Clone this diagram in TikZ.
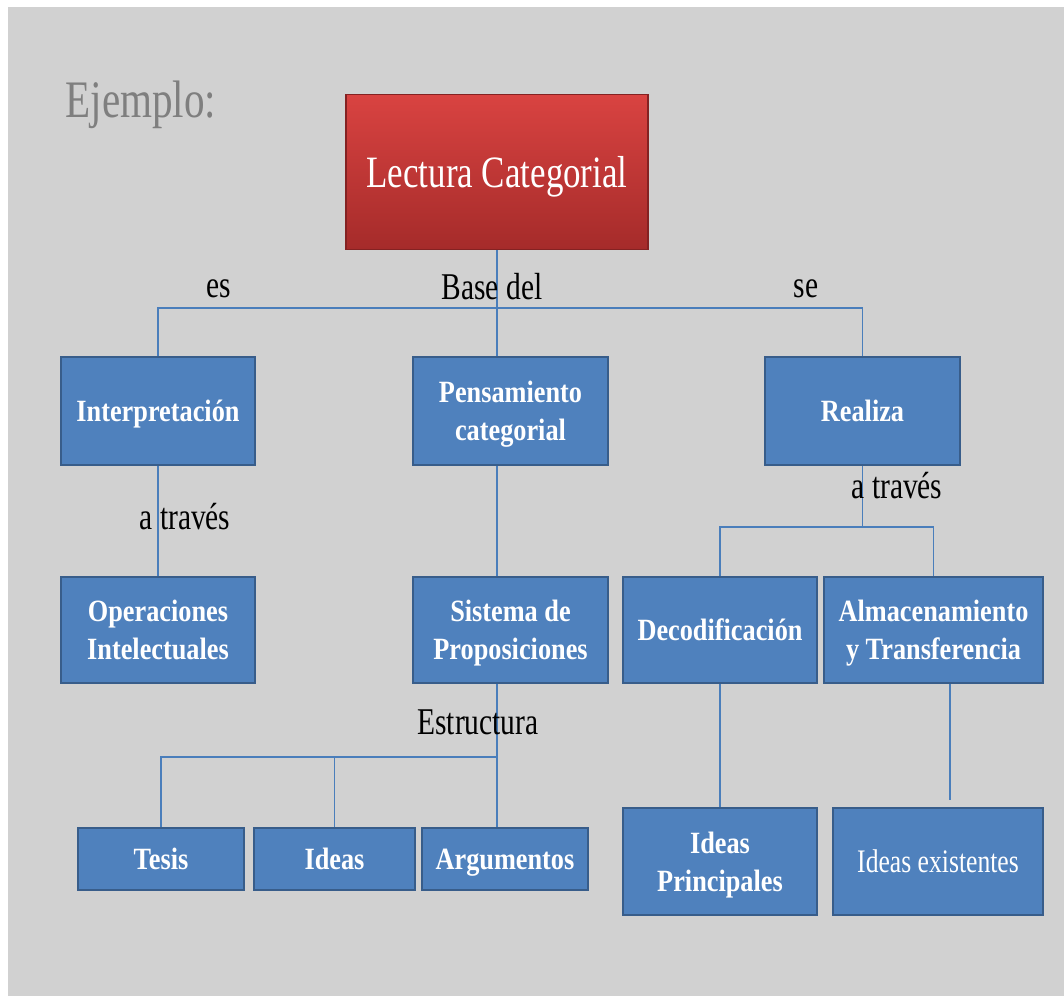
\documentclass[tikz,border=0pt]{standalone}
\usepackage{fontspec}
\setmainfont[FakeStretch=0.85]{Liberation Serif}
\newfontfamily\condfont[FakeStretch=0.78]{Liberation Serif}
\usetikzlibrary{positioning}
\definecolor{slidegray}{HTML}{D1D1D1}
\definecolor{boxblue}{HTML}{4F81BD}
\definecolor{boxedge}{HTML}{385D8A}
\definecolor{linkblue}{HTML}{4A7EBB}
\definecolor{redtop}{HTML}{D94341}
\definecolor{redbot}{HTML}{A52B2A}
\definecolor{titlegray}{HTML}{7F7F7F}
\tikzset{
  every picture/.style = {
    x = 0.02cm,
    y = -0.02cm,
  }
  ,
  box/.style = {
    rectangle,
    fill = boxblue,
    draw = boxedge,
    line width = 1pt,
    text = white,
    align = center,
    inner sep = 2pt,
    text depth = 0pt,
    font = \fontsize{17.6}{21.5}\selectfont\bfseries
  }
  ,
  mainbox/.style = {
    rectangle,
    top color = redtop,
    bottom color = redbot,
    draw = redbot!80!black,
    line width = 1pt,
    text = white,
    text depth = 0pt,
    font = \condfont\fontsize{25.5}{30}\selectfont
  }
  , % labels of edges
  label-edge/.style = {
    font = \condfont\fontsize{21.5}{25}\selectfont
  }
  ,
  link/.style = {
    draw = linkblue,
    line width = 0.7pt
  }
}
\begin{document}
\begin{tikzpicture}
  \useasboundingbox (0,0) rectangle (1064,996);
  \fill[white] (-10,-10) rectangle (1080,1010);
  \fill[slidegray] (8,7) rectangle (1080,1010);
  \node[anchor=base, text=titlegray, font=\condfont\fontsize{30}{34}\selectfont] (ej) at (141,118) {Ejemplo:};
  \node[mainbox, minimum width=6.04cm, minimum height=3.1cm] (lc) at (497,172) {Lectura Categorial};
  % first row
  \node[box, minimum width=3.88cm, minimum height=2.16cm] (interp) at (158,411) {Interpretación};
  \node[box, minimum width=3.9cm, minimum height=2.16cm] (pens) at (510.5,411) {Pensamiento\\categorial};
  \node[box, minimum width=3.9cm, minimum height=2.16cm] (realiza) at (862.5,411) {Realiza};
  % second row
  \node[box, minimum width=3.88cm, minimum height=2.12cm] (oper) at (158,630) {Operaciones\\Intelectuales};
  \node[box, minimum width=3.9cm, minimum height=2.12cm] (sist) at (510.5,630) {Sistema de\\Proposiciones};
  \node[box, minimum width=3.88cm, minimum height=2.12cm] (decod) at (720,630) {Decodificación};
  \node[box, minimum width=4.38cm, minimum height=2.12cm] (almac) at (933.5,630) {Almacenamiento\\y Transferencia};
  % third row
  \node[box, minimum width=3.32cm, minimum height=1.24cm] (tesis) at (161,859) {Tesis};
  \node[box, minimum width=3.22cm, minimum height=1.24cm] (ideas) at (334.5,859) {Ideas};
  \node[box, minimum width=3.32cm, minimum height=1.24cm] (argum) at (505,859) {Argumentos};
  \node[box, minimum width=3.88cm, minimum height=2.14cm] (princ) at (720,861.5) {Ideas\\Principales};
  \node[box, minimum width=4.2cm, minimum height=2.14cm, font=\condfont\fontsize{18.7}{22}\selectfont] (exist) at (938,861.5) {Ideas existentes};
  % connectors
  \coordinate (top) at (497,308);
  \coordinate (est) at (497,757);
  \coordinate (rs) at (865,527);
  \coordinate (almend) at (950,800);
  \draw[link] (lc.south) -- (lc.south |- pens.north);
  \draw[link] (interp.north) |- (top) -| (realiza.north);
  \draw[link] (interp) -- (oper);
  \draw[link] (lc.south |- pens.south) -- (lc.south |- sist.north);
  \draw[link] (lc.south |- sist.south) -- (lc.south |- argum.north);
  \draw[link] (tesis.north) |- (est);
  \draw[link] (ideas.north) -- (ideas.north |- est);
  \draw[link] (realiza.south) -- (realiza.south |- rs);
  \draw[link] (decod.north) |- (rs) -| (almac.north);
  \draw[link] (decod) -- (princ);
  \draw[link] (almend |- almac.south) -- (almend);
  % labels
  \node[label-edge] (les) at (219,289) {es};
  \node[label-edge] (lbase) at (492,287) {Base del};
  \node[label-edge] (lse) at (806,289) {se};
  \node[label-edge] (latr1) at (185,517) {a través};
  \node[label-edge] (latr2) at (897,486) {a través};
  \node[label-edge] (lest) at (478,722) {Estructura};
\end{tikzpicture}
\end{document}
